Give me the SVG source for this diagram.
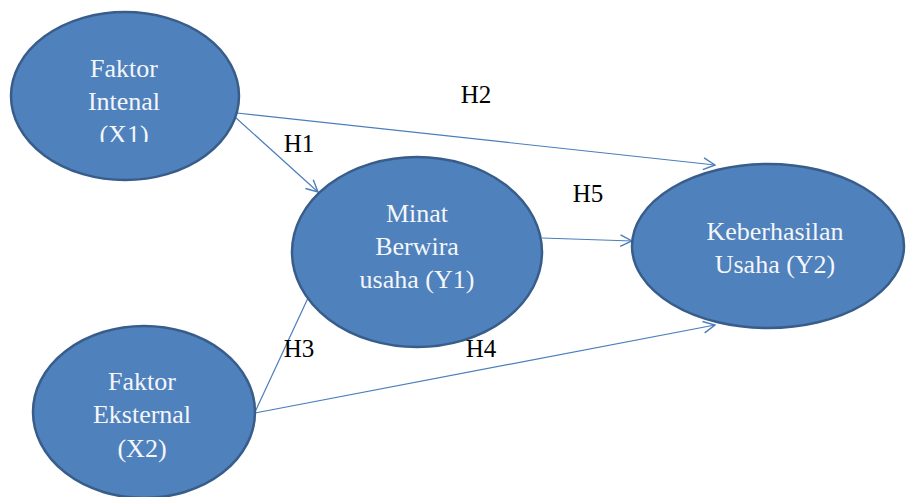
<svg xmlns="http://www.w3.org/2000/svg" width="907" height="497" viewBox="0 0 907 497">
<style>
.node{fill:#4F81BD;stroke:#385D8A;stroke-width:2.5}
.nt{font-size:26px;fill:#F4F6FA;text-anchor:middle}
.lb{font-size:25px;fill:#000;text-anchor:middle}
.edge{stroke:#4A7EBB;stroke-width:1.2;fill:none}
</style>
<defs>
<marker id="arr" viewBox="0 0 12 12" refX="11" refY="6" markerWidth="14" markerHeight="14" markerUnits="userSpaceOnUse" orient="auto">
<path d="M1,1 L11,6 L1,11" fill="none" stroke="#4A7EBB" stroke-width="1.2"/>
</marker>
<clipPath id="clipX1"><rect x="0" y="0" width="300" height="142"/></clipPath>
</defs>
<rect width="907" height="497" fill="#fff"/>
<g id="connectors">
<line class="edge" x1="237" y1="113" x2="715" y2="165" marker-end="url(#arr)"/>
<line class="edge" x1="235" y1="117" x2="318" y2="192" marker-end="url(#arr)"/>
<line class="edge" x1="542" y1="238" x2="632" y2="241" marker-end="url(#arr)"/>
<line class="edge" x1="255" y1="412" x2="308" y2="298"/>
<line class="edge" x1="255" y1="413" x2="715" y2="325" marker-end="url(#arr)"/>
</g>
<g font-family="Liberation Serif, Times New Roman, serif">
<g id="X1">
<ellipse class="node" cx="125" cy="96" rx="114" ry="84"/>
<text class="nt" x="124" y="77">Faktor</text>
<text class="nt" x="124" y="110">Intenal</text>
<text class="nt" x="124" y="143" clip-path="url(#clipX1)">(X1)</text>
</g>
<g id="X2">
<ellipse class="node" cx="144" cy="412" rx="111" ry="86"/>
<text class="nt" x="142" y="390">Faktor</text>
<text class="nt" x="142" y="423">Eksternal</text>
<text class="nt" x="142" y="457">(X2)</text>
</g>
<g id="Y1">
<ellipse class="node" cx="417" cy="252" rx="125" ry="95"/>
<text class="nt" x="417" y="222">Minat</text>
<text class="nt" x="417" y="255">Berwira</text>
<text class="nt" x="417" y="288">usaha (Y1)</text>
</g>
<g id="Y2">
<ellipse class="node" cx="768" cy="246" rx="136" ry="82"/>
<text class="nt" x="775" y="240">Keberhasilan</text>
<text class="nt" x="775" y="273">Usaha (Y2)</text>
</g>
<g id="labels">
<text class="lb" x="476" y="103">H2</text>
<text class="lb" x="299" y="152">H1</text>
<text class="lb" x="588" y="202">H5</text>
<text class="lb" x="299" y="357">H3</text>
<text class="lb" x="481" y="357">H4</text>
</g>
</g>
</svg>
